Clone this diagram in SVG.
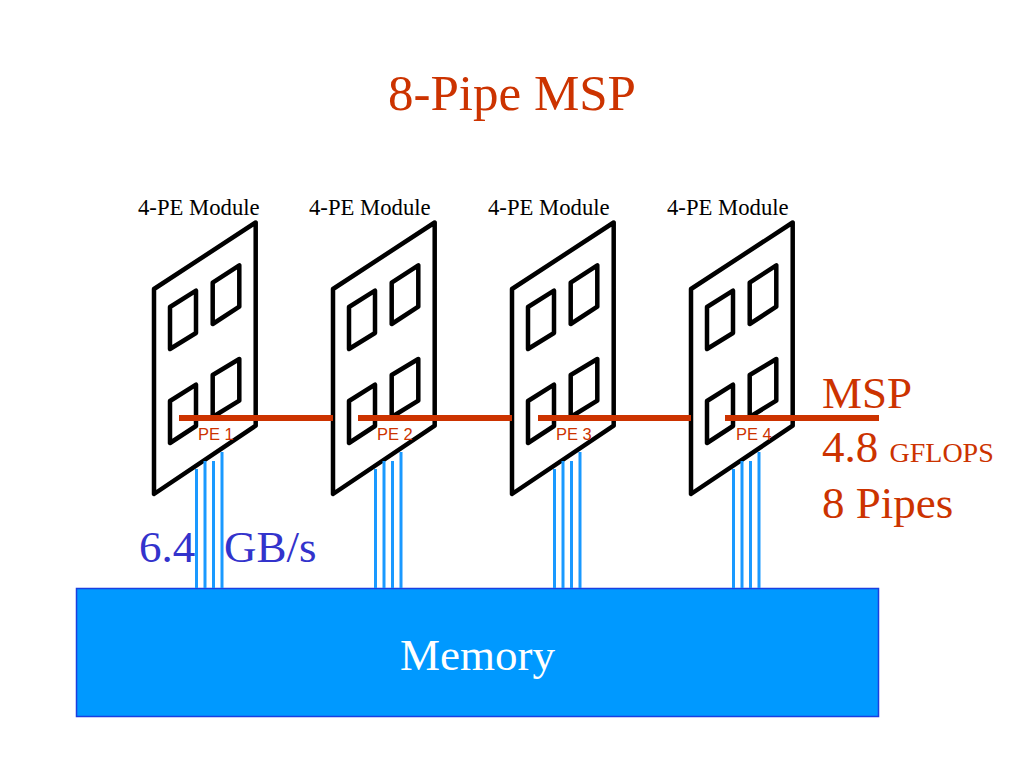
<svg xmlns="http://www.w3.org/2000/svg" xmlns:xlink="http://www.w3.org/1999/xlink" width="1024" height="768" viewBox="0 0 1024 768">
<style>
.serif{font-family:"Liberation Serif","Times New Roman",serif}
.red{fill:#cc3300}
.mod{font-size:22.7px;fill:#000}
.big{font-size:45px}
.pe{font-family:"Liberation Sans",Arial,sans-serif;font-size:16.5px;fill:#cc3300}
.outline{fill:#fff;stroke:#000;stroke-width:4.5;stroke-linejoin:round}
.chip{fill:#fff;stroke:#000;stroke-width:4.5;stroke-linejoin:round}
.wire{stroke:#1a99ff;stroke-width:3;fill:none}
.bus{stroke:#cc3300;stroke-width:6;fill:none}
</style>
<defs>
<g id="wires">
<path class="wire" d="M196.500 469V588M205 461V588M213.500 461V588M222 452V588"/>
</g>
<g id="board">
<polygon class="outline" points="154,289 255.700,222.500 255.700,425.700 154,494"/>
<polygon class="chip" points="170,307 196,290.700 196,333 170,349"/>
<polygon class="chip" points="212.700,282.700 239.300,265.300 239.300,306.700 212.700,324"/>
<polygon class="chip" points="170,401 196,384.700 196,426 170,443"/>
<polygon class="chip" points="212.700,375 239.300,359 239.300,400.700 212.700,417"/>
</g>
</defs>
<text class="serif red" x="512" y="110" font-size="51" text-anchor="middle">8-Pipe MSP</text>
<g id="memory">
<rect x="76.500" y="588.500" width="802" height="128" fill="#0099ff" stroke="#1a3fe0" stroke-width="1.500"/>
<text class="serif big" x="477.500" y="670" fill="#fff" text-anchor="middle">Memory</text>
</g>
<g id="module-1"><use xlink:href="#board" href="#board"/><text class="serif mod" x="138" y="215">4-PE Module</text></g>
<g id="module-2"><use xlink:href="#board" href="#board" x="179"/><text class="serif mod" x="309" y="215">4-PE Module</text></g>
<g id="module-3"><use xlink:href="#board" href="#board" x="358"/><text class="serif mod" x="488" y="215">4-PE Module</text></g>
<g id="module-4"><use xlink:href="#board" href="#board" x="537"/><text class="serif mod" x="667" y="215">4-PE Module</text></g>
<g id="connectors">
<use xlink:href="#wires" href="#wires"/>
<use xlink:href="#wires" href="#wires" x="179"/>
<use xlink:href="#wires" href="#wires" x="358"/>
<use xlink:href="#wires" href="#wires" x="537"/>
<path class="bus" d="M179 418H333M358 418H512M538 418H691M725 418H879"/>
</g>
<g id="pe-labels">
<text class="pe" x="198" y="440">PE 1</text>
<text class="pe" x="377" y="440">PE 2</text>
<text class="pe" x="556" y="440">PE 3</text>
<text class="pe" x="736" y="440">PE 4</text>
</g>
<g id="msp-label" class="serif red">
<text class="big" x="822" y="408">MSP</text>
<text class="big" x="822" y="462">4.8 <tspan font-size="28">GFLOPS</tspan></text>
<text class="big" x="822" y="518">8 Pipes</text>
</g>
<g id="bandwidth-label" class="serif" fill="#3333cc">
<text class="big" x="139" y="562">6.4</text>
<text class="big" x="224" y="562">GB/s</text>
</g>
</svg>
